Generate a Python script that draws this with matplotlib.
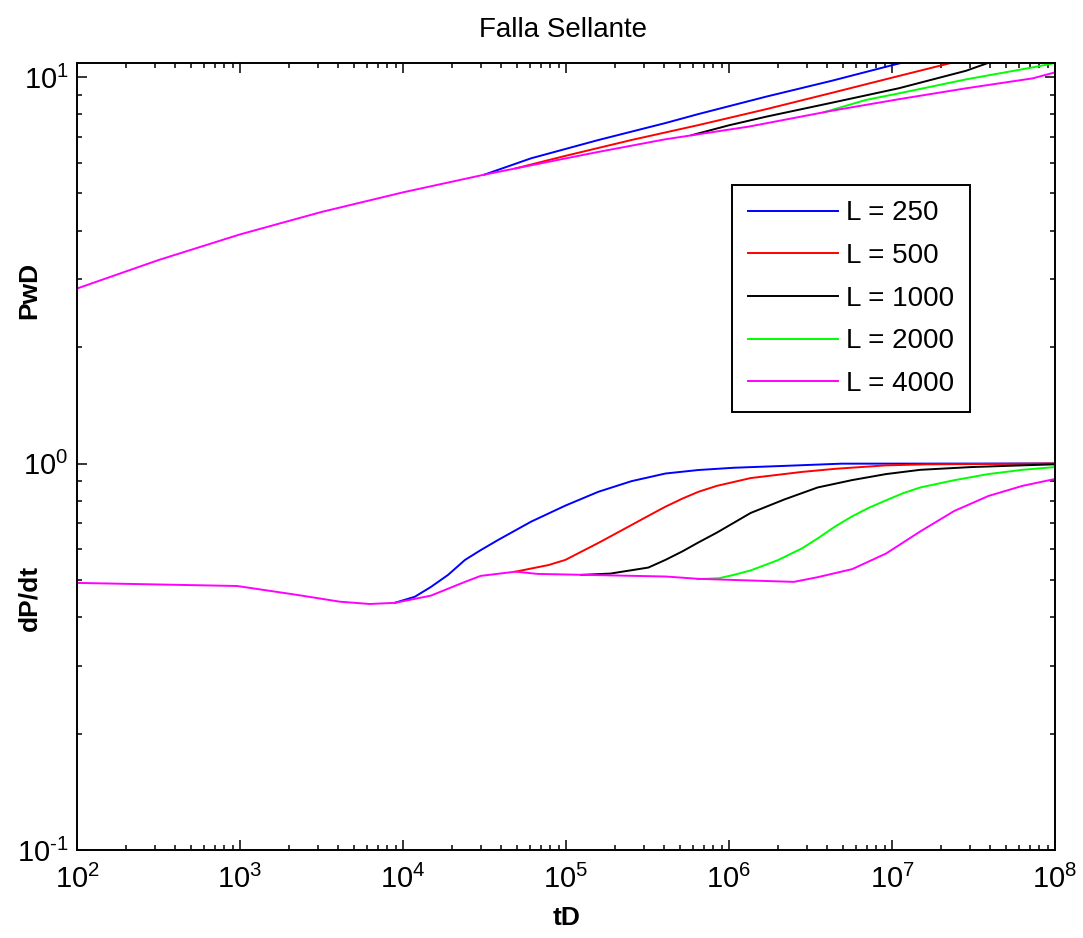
import numpy as np
import matplotlib
matplotlib.use("Agg")
import matplotlib.pyplot as plt
from matplotlib.ticker import FixedLocator, LogLocator, NullFormatter, FuncFormatter

plt.rcParams['font.family'] = ['Liberation Sans', 'DejaVu Sans']
plt.rcParams['mathtext.fontset'] = 'custom'
plt.rcParams['mathtext.rm'] = 'Liberation Sans'
plt.rcParams['mathtext.it'] = 'Liberation Sans:italic'
plt.rcParams['mathtext.bf'] = 'Liberation Sans:bold'

# --- PwD curves (dimensionless pressure) ---
t_p4000 = [1e2, 3.16e2, 1e3, 3.16e3, 1e4, 3.16e4, 1e5, 1.58e5,
           4.07e5, 1.32e6, 4.28e6, 1.1e7, 2.85e7, 7.3e7, 1e8]
p4000 = [2.836, 3.36, 3.915, 4.475, 5.03, 5.59, 6.16, 6.40,
         6.90, 7.44, 8.18, 8.76, 9.35, 9.92, 10.28]

t_p250 = [3.16e4, 6.1e4, 1.58e5, 4.07e5, 6.5e5, 1.68e6, 4.28e6, 9.2e6, 1.27e7]
p250 = [5.59, 6.16, 6.87, 7.60, 8.02, 8.89, 9.78, 10.63, 11.0]

t_p500 = [4.9e4, 9.9e4, 2.52e5, 6.5e5, 1.68e6, 4.28e6, 1.1e7, 2.57e7]
p500 = [5.80, 6.25, 6.87, 7.51, 8.25, 9.10, 10.06, 11.0]

t_p1000 = [5.9e5, 1.0e6, 1.68e6, 4.28e6, 1.1e7, 2.85e7, 4.2e7]
p1000 = [7.07, 7.50, 7.89, 8.58, 9.35, 10.38, 11.0]

t_p2000 = [3.8e6, 6.9e6, 1.1e7, 2.85e7, 7.3e7, 1e8]
p2000 = [8.10, 8.72, 9.07, 9.86, 10.59, 10.87]

# --- dP/dt curves (pressure derivative) ---
t_d4000 = [1e2, 9.6e2, 2.25e3, 4.1e3, 6.25e3, 8.9e3, 1.48e4, 2.4e4, 3.0e4, 4.9e4,
           6.7e4, 4.1e5, 6.5e5, 2.5e6, 3.5e6, 5.7e6, 9.2e6, 1.49e7, 2.4e7, 3.9e7,
           6.3e7, 1e8]
d4000 = [0.491, 0.482, 0.457, 0.439, 0.433, 0.436, 0.455, 0.494, 0.512, 0.525,
         0.518, 0.510, 0.503, 0.494, 0.508, 0.533, 0.585, 0.667, 0.753, 0.824,
         0.875, 0.912]

t_d250 = [8.9e3, 1.18e4, 1.48e4, 1.89e4, 2.4e4, 3.0e4, 3.83e4, 6.1e4, 9.9e4,
          1.58e5, 2.52e5, 4.07e5, 6.5e5, 1.07e6, 2.2e6, 4.9e6, 1e8]
d250 = [0.436, 0.452, 0.479, 0.515, 0.563, 0.597, 0.634, 0.707, 0.778,
        0.845, 0.900, 0.942, 0.962, 0.975, 0.986, 0.999, 1.0]

t_d500 = [4.9e4, 7.8e4, 9.9e4, 1.58e5, 2.52e5, 3.2e5, 4.07e5, 5.2e5,
          6.5e5, 8.4e5, 1.36e6, 2.8e6, 4.5e6, 9.2e6, 1.64e7, 1e8]
d500 = [0.525, 0.546, 0.563, 0.623, 0.693, 0.732, 0.773, 0.812,
        0.845, 0.875, 0.917, 0.951, 0.969, 0.989, 0.995, 1.0]

t_d1000 = [1.24e5, 1.87e5, 3.2e5, 4.07e5, 5.2e5, 6.5e5, 8.4e5, 1.36e6, 2.2e6,
           3.5e6, 5.7e6, 9.2e6, 1.49e7, 3.06e7, 6.3e7, 1e8]
d1000 = [0.515, 0.519, 0.538, 0.563, 0.593, 0.625, 0.662, 0.745, 0.808,
         0.867, 0.906, 0.939, 0.963, 0.979, 0.989, 0.995]

t_d2000 = [6.4e5, 8.7e5, 1.07e6, 1.36e6, 1.99e6, 2.8e6, 3.5e6, 4.5e6, 5.7e6,
           7.2e6, 9.2e6, 1.17e7, 1.49e7, 2.4e7, 3.9e7, 6.3e7, 1e8]
d2000 = [0.502, 0.505, 0.515, 0.529, 0.562, 0.603, 0.640, 0.688, 0.730,
         0.768, 0.803, 0.838, 0.867, 0.905, 0.939, 0.963, 0.979]

labels = ['L = 250', 'L = 500', 'L = 1000', 'L = 2000', 'L = 4000']
colors = ['#0000ff', '#ff0000', '#000000', '#00ff00', '#ff00ff']
x_major = [1e2, 1e3, 1e4, 1e5, 1e6, 1e7, 1e8]
y_major = [0.1, 1, 10]

pressure = [(t_p250, p250), (t_p500, p500), (t_p1000, p1000), (t_p2000, p2000), (t_p4000, p4000)]
derivative = [(t_d250, d250), (t_d500, d500), (t_d1000, d1000), (t_d2000, d2000), (t_d4000, d4000)]

fig = plt.figure(figsize=(10.83, 9.38), dpi=100)
ax = fig.add_axes([77 / 1083, 1 - 850 / 938, 978 / 1083, 787 / 938])

handles = []
for (tp, p), (td, d), lab, c in zip(pressure, derivative, labels, colors):
    h, = ax.plot(tp, p, color=c, lw=1.4, label=lab)
    ax.plot(td, d, color=c, lw=1.4)
    handles.append(h)

ax.set_xscale('log')
ax.set_yscale('log')
ax.set_xlim(1e2, 1e8)
ax.set_ylim(0.1, 10.87)


def pow10(v, pos):
    e = int(round(np.log10(v)))
    if e < 0:
        return r'$\mathregular{10^{\text{-}%d}}$' % (-e)
    return r'$\mathregular{10^{%d}}$' % e


for axis, majors in ((ax.xaxis, x_major), (ax.yaxis, y_major)):
    axis.set_major_locator(FixedLocator(majors))
    axis.set_major_formatter(FuncFormatter(pow10))
    axis.set_minor_locator(LogLocator(base=10, subs=np.arange(2, 10), numticks=100))
    axis.set_minor_formatter(NullFormatter())

ax.tick_params(which='both', direction='in', top=True, right=True, labelsize=21, width=1.1)
ax.tick_params(which='major', length=7.2)
ax.tick_params(which='minor', length=3.6)
ax.tick_params(axis='x', pad=11)
ax.tick_params(axis='y', pad=6)
for s in ax.spines.values():
    s.set_linewidth(1.4)

leg = ax.legend(handles, labels, loc='upper left', bbox_to_anchor=(0.670, 0.845),
                borderaxespad=0, fontsize=20, handlelength=3.25, handletextpad=0.3,
                labelspacing=0.6, fancybox=False, framealpha=1, borderpad=0.55)
leg.get_frame().set_edgecolor('black')
leg.get_frame().set_linewidth(1.4)

fig.text(563 / 1083, 1 - 30 / 938, 'Falla Sellante', ha='center', va='center', fontsize=20)
fig.text(29 / 1083, 1 - 290 / 938, 'PwD', rotation=90, ha='center', va='center',
         fontsize=19, fontweight='bold')
fig.text(29 / 1083, 1 - 598 / 938, 'dP/dt', rotation=90, ha='center', va='center',
         fontsize=19, fontweight='bold')
fig.text(567 / 1083, 1 - 918 / 938, 'tD', ha='center', va='center',
         fontsize=19, fontweight='bold')

fig.savefig('out.png', dpi=100)
